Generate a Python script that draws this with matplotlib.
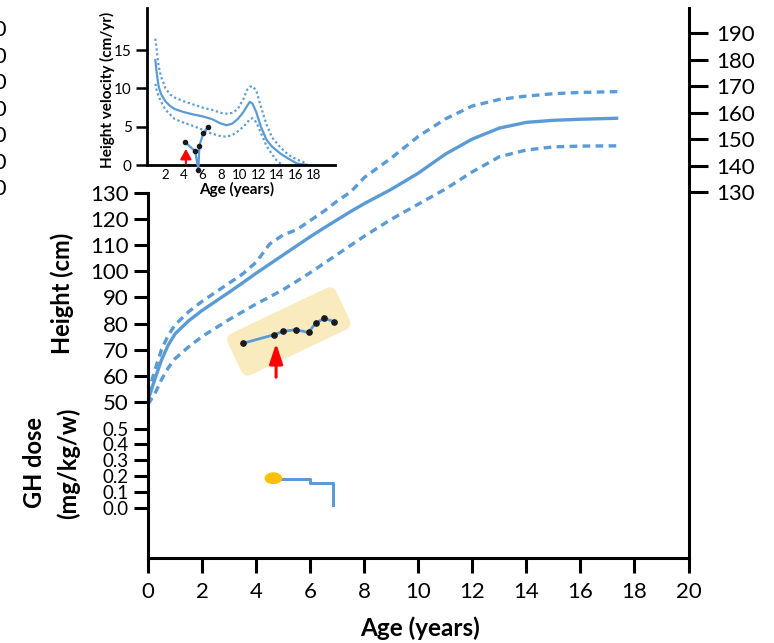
import matplotlib
matplotlib.use("Agg")
import matplotlib.pyplot as plt
import matplotlib.transforms as mtransforms
from matplotlib.patches import FancyBboxPatch, Ellipse

plt.rcParams['font.family'] = ['Lato', 'DejaVu Sans']

# ---- reference growth curves (height, cm) ----
ref_age = [0, 0.25, 0.5, 0.75, 1, 1.5, 2, 3, 3.5, 4, 4.5, 5, 5.5, 6, 6.5, 7, 7.5, 8,
           9, 10, 11, 12, 13, 14, 15, 16, 17.4]
height_median = [50.5, 58.5, 66, 71.8, 76, 81, 85, 92, 95.6, 99.3, 102.8, 106.3, 109.8,
                 113.3, 116.6, 119.8, 123, 126, 131.5, 137.7, 145, 150.8, 155, 157.2,
                 158, 158.4, 158.8]
height_upper = [53, 62, 70, 75.5, 79.5, 84.5, 88.5, 95.5, 99, 103.5, 110.5, 114, 116, 119.5,
                123, 127, 130.5, 136, 143.5, 151.8, 158.5, 163.5, 166, 167.3, 168.2,
                168.7, 169]
height_lower = [49, 53, 58.5, 63, 66.5, 71, 75, 81.5, 84.5, 87.5, 90.2, 93, 96.2, 99.5,
                103, 106.5, 110, 113.5, 120, 125.8, 131.6, 138.2, 144, 146.6, 147.8,
                148.1, 148.2]

# ---- patient heights ----
patient_age = [3.51, 4.67, 4.99, 5.46, 5.94, 6.2, 6.52, 6.89]
patient_height = [72.4, 75.7, 77.0, 77.6, 76.6, 80.1, 82.0, 80.7]
treatment_start_age = 4.74
treatment_arrow_height = (59.4, 72.4)

# ---- GH dose (mg/kg/w) ----
dose_age = [4.64, 6.0, 6.86]
dose_value = [0.18, 0.16, 0.02]
dose_start = (4.64, 0.187)

# ---- height velocity reference (cm/yr) ----
vel_age = [0.9, 1.05, 1.25, 1.5, 2.0, 2.5, 3.0, 4.0, 5.0, 6.0, 7.0, 8.0, 8.6, 9.2, 9.8,
           10.4, 10.8, 11.1, 11.4, 11.8, 12.3, 12.9, 13.5, 14.4, 15.3, 16.2, 17.3]
vel_median = [13.7, 12.0, 10.3, 9.3, 8.3, 7.7, 7.3, 6.9, 6.6, 6.35, 6.0, 5.4, 5.2, 5.4,
              6.0, 6.9, 7.7, 8.25, 8.0, 6.9, 5.0, 3.3, 2.4, 1.5, 0.8, 0.2, 0.0]
vel_upper = [16.5, 15.0, 13.0, 11.6, 10.0, 9.2, 8.8, 8.3, 7.9, 7.5, 7.2, 6.8, 6.7, 6.8,
             7.3, 8.6, 9.8, 10.2, 10.3, 9.7, 7.6, 5.3, 3.6, 2.3, 1.3, 0.7, 0.2]
vel_lower_age = [0.9, 1.05, 1.25, 1.5, 2.0, 2.5, 3.0, 4.0, 5.0, 6.0, 7.0, 8.0, 8.6, 9.2,
                 9.8, 10.4, 10.8, 11.1, 11.4, 11.8, 12.3, 12.9, 13.5, 14.0, 14.6]
vel_lower = [10.6, 9.7, 9.0, 8.3, 7.2, 6.6, 6.0, 5.5, 5.1, 4.6, 4.1, 3.75, 3.7, 3.9, 4.4,
             5.0, 5.5, 6.0, 6.1, 5.6, 4.2, 2.5, 1.4, 0.6, 0.0]

# ---- patient height velocity ----
pvel_age = [4.1, 5.2, 5.55, 5.65, 6.1, 6.6]
pvel_value = [3.0, 1.8, -0.6, 2.5, 4.2, 5.0]
inset_arrow_age = 4.2
inset_arrow_v = (0.2, 2.1)

# ---- tick labels ----
age_ticks = list(range(0, 21, 2))
height_ticks = list(range(50, 131, 10))
height_ticks_right = list(range(130, 191, 10))
dose_ticks = [0.0, 0.1, 0.2, 0.3, 0.4, 0.5]
inset_age_ticks = list(range(2, 19, 2))
inset_vel_ticks = [0, 5, 10, 15]

BLUE = '#5B9BD5'
W, H = 774, 643


def rect(x0, y0, x1, y1):
    return [x0 / W, 1 - y1 / H, (x1 - x0) / W, (y1 - y0) / H]


fig = plt.figure(figsize=(W / 100, H / 100), dpi=100)

# main height axes
ax = fig.add_axes(rect(148, 8, 688.5, 558))
ax.set_facecolor('none')
ax.set_xlim(0, 20)
ax.set_ylim(-10, 201.1)
for s in ('top', 'right'):
    ax.spines[s].set_visible(False)
for s in ('left', 'bottom'):
    ax.spines[s].set_linewidth(2.2)
ax.spines['left'].set_bounds(-10, 130)
ax.set_xticks(age_ticks)
ax.set_yticks(height_ticks)
ax.tick_params(axis='x', direction='out', length=11, width=2.2, labelsize=16, pad=6)
ax.tick_params(axis='y', direction='out', length=10, width=2.2, labelsize=16, pad=4)

dash = (0, (2.3, 1.6))
ax.plot(ref_age, height_upper, color=BLUE, lw=2.4, ls=dash, zorder=2)
ax.plot(ref_age, height_lower, color=BLUE, lw=2.4, ls=dash, zorder=2)
ax.plot(ref_age, height_median, color=BLUE, lw=2.4, zorder=2, solid_capstyle='butt')

# highlight box around the patient's measurements
fig.canvas.draw()
cx, cy = ax.transData.transform((5.21, 76.95))
bw, bh = 120, 46
box = FancyBboxPatch((cx - bw / 2, cy - bh / 2), bw, bh,
                     boxstyle='round,pad=0,rounding_size=8',
                     facecolor='#FAEBBF', edgecolor='none', zorder=1,
                     transform=mtransforms.Affine2D().rotate_deg_around(cx, cy, 25.4))
box.set_clip_on(False)
ax.add_patch(box)

ax.plot(patient_age, patient_height, color=BLUE, lw=2, marker='o', ms=3.8,
        mfc='#1a1a1a', mec='#1a1a1a', zorder=3)
ax.annotate('', xy=(treatment_start_age, treatment_arrow_height[1]),
            xytext=(treatment_start_age, treatment_arrow_height[0]),
            arrowprops=dict(arrowstyle='-|>,head_length=0.45,head_width=0.15',
                            mutation_scale=27, color='#FF0000', lw=2.2,
                            shrinkA=0, shrinkB=0), zorder=4)

# GH dose axes sharing the same frame
axd = fig.add_axes(rect(148, 8, 688.5, 558), sharex=ax)
axd.set_facecolor('none')
axd.set_ylim(-0.3145, 3.145)
for s in axd.spines.values():
    s.set_visible(False)
axd.set_yticks(dose_ticks)
axd.set_yticklabels([f'{d:.1f}' for d in dose_ticks])
axd.tick_params(axis='y', direction='out', length=10, width=2.2, labelsize=13.5, pad=4)
axd.tick_params(axis='x', bottom=False, labelbottom=False)
axd.plot(dose_age, dose_value, color=BLUE, lw=2.2, drawstyle='steps-post')
axd.add_patch(Ellipse(dose_start, width=0.655, height=0.075, facecolor='#FFC000',
                      edgecolor='none', zorder=3))

# right-hand height scale
axr = ax.twinx()
axr.set_ylim(-8, 199.55)
for s in ('top', 'left', 'bottom'):
    axr.spines[s].set_visible(False)
axr.spines['right'].set_linewidth(2.2)
axr.set_yticks(height_ticks_right)
axr.tick_params(axis='y', direction='out', length=14, width=2.2, labelsize=16, pad=6)

# the same height scale, running off the left edge
edge = mtransforms.blended_transform_factory(fig.transFigure, axr.transData)
for v in height_ticks_right:
    fig.text(7 / W, v + 1.2, str(v), transform=edge, ha='right', va='center', fontsize=16)

# axis titles
fig.text(420 / W, 1 - 628 / H, 'Age (years)', ha='center', va='center',
         fontsize=17.5, fontweight='bold')
fig.text(62 / W, 1 - 293 / H, 'Height (cm)', rotation=90, ha='center', va='center',
         fontsize=17, fontweight='bold')
fig.text(35 / W, 1 - 463 / H, 'GH dose', rotation=90, ha='center', va='center',
         fontsize=17, fontweight='bold')
fig.text(68 / W, 1 - 463 / H, '(mg/kg/w)', rotation=90, ha='center', va='center',
         fontsize=17, fontweight='bold')

# height velocity inset
axi = fig.add_axes(rect(147, 8, 335, 165))
axi.set_facecolor('none')
axi.set_xlim(0, 20.3)
axi.set_ylim(0, 20.5)
for s in ('top', 'right'):
    axi.spines[s].set_visible(False)
for s in ('left', 'bottom'):
    axi.spines[s].set_linewidth(2.0)
axi.set_xticks(inset_age_ticks)
axi.set_yticks(inset_vel_ticks)
axi.tick_params(axis='x', length=0, labelsize=9.5, pad=3)
axi.tick_params(axis='y', direction='out', length=8, width=1.8, labelsize=11, pad=3)

dot = (0, (1, 1.2))
axi.plot(vel_age, vel_upper, color=BLUE, lw=1.6, ls=dot)
axi.plot(vel_lower_age, vel_lower, color=BLUE, lw=1.6, ls=dot)
axi.plot(vel_age, vel_median, color=BLUE, lw=1.6)
axi.plot(pvel_age, pvel_value, color=BLUE, lw=1.6, marker='o', ms=3,
         mfc='#1a1a1a', mec='#1a1a1a', clip_on=False, zorder=3)
axi.annotate('', xy=(inset_arrow_age, inset_arrow_v[1]),
             xytext=(inset_arrow_age, inset_arrow_v[0]),
             arrowprops=dict(arrowstyle='-|>,head_length=0.4,head_width=0.22',
                             mutation_scale=15, color='#FF0000', lw=1.5,
                             shrinkA=0, shrinkB=0))

fig.text(237 / W, 1 - 189 / H, 'Age (years)', ha='center', va='center',
         fontsize=11, fontweight='bold')
fig.text(107 / W, 1 - 90 / H, 'Height velocity (cm/yr)', rotation=90, ha='center',
         va='center', fontsize=11, fontweight='bold')

fig.savefig('out.png', dpi=100)
